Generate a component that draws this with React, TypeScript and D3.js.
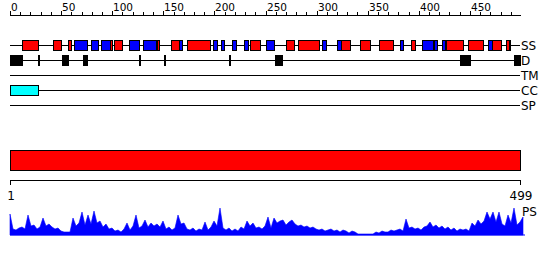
import React from "react";
import * as d3 from "d3";

const LENGTH = 499;
const rulerTicks = d3.range(0, 500, 10);
const rulerLabels = [0, 50, 100, 150, 200, 250, 300, 350, 400, 450];
const trackNames = ["SS", "D", "TM", "CC", "SP"];

// secondary structure: [start, end, type] H = helix (red), E = strand (blue)
const ssStart = [12, 42, 57, 63, 79, 89, 98, 102, 116, 130, 144, 158, 165, 173, 199, 206, 217, 229, 235, 250, 270, 282, 305, 320, 324, 342, 361, 382, 392, 403, 415, 423, 427, 448, 468, 472, 485, 488];
const ssEnd = [27, 50, 60, 75, 86, 98, 100, 110, 126, 143, 146, 165, 168, 196, 203, 209, 221, 233, 245, 258, 278, 302, 309, 324, 333, 352, 375, 385, 396, 414, 418, 426, 443, 463, 472, 480, 488, 489];
const ssType = ["H", "H", "H", "E", "E", "E", "H", "H", "E", "E", "H", "H", "E", "H", "E", "E", "E", "E", "H", "E", "H", "H", "E", "E", "H", "H", "H", "E", "H", "E", "E", "E", "H", "H", "E", "H", "H", "E"];

// disordered regions
const disStart = [0, 27, 51, 71, 126, 151, 214, 259, 440, 493];
const disEnd = [12, 28, 57, 75, 127, 152, 215, 266, 450, 499];

// coiled coil
const ccStart = [0];
const ccEnd = [27];

// domain bar
const domainStart = [1];
const domainEnd = [499];
const axisLabels = ["1", "499"];

// PS profile
const psValues = [
  21, 6, 5, 7, 8, 6, 20, 9, 10, 6, 8, 17, 9, 11, 8, 6, 7, 4, 3, 3,
  3, 17, 9, 12, 23, 10, 20, 11, 24, 12, 14, 8, 11, 6, 7, 4, 5, 3, 6, 12,
  5, 9, 20, 7, 9, 15, 8, 12, 9, 11, 8, 14, 6, 8, 5, 7, 20, 11, 12, 6,
  5, 7, 4, 6, 5, 13, 5, 8, 14, 9, 27, 7, 5, 7, 4, 6, 4, 8, 6, 14,
  9, 12, 7, 8, 6, 9, 18, 7, 17, 12, 14, 15, 10, 13, 15, 11, 9, 10, 8, 9,
  7, 8, 6, 5, 6, 4, 5, 6, 4, 5, 3, 5, 4, 2, 4, 3, 1, 1, 1, 1,
  1, 1, 3, 2, 4, 3, 3, 5, 4, 5, 6, 4, 16, 7, 8, 6, 7, 5, 8, 9,
  13, 8, 10, 7, 9, 6, 8, 5, 7, 4, 6, 5, 6, 4, 12, 9, 15, 11, 14, 23,
  16, 23, 13, 23, 11, 9, 20, 12, 27, 10, 13, 18
];

const FONT = "DejaVu Sans, Verdana, sans-serif";

export default function App() {
  const x = d3.scaleLinear().domain([0, LENGTH]).range([10, 520]);
  const xd = d3.scaleLinear().domain([1, LENGTH]).range([10, 520]);
  const xp = d3.scaleLinear().domain([0, psValues.length - 1]).range([10, 523]);
  const yp = d3.scaleLinear().domain([0, 30]).range([235, 205]);
  const trackY = d3.scaleOrdinal<string, number>().domain(trackNames).range([45, 60, 75, 90, 105]);

  const psData = psValues.map((v, i) => ({ i, v }));
  const area = d3
    .area<{ i: number; v: number }>()
    .x((d) => xp(d.i))
    .y0(yp(0))
    .y1((d) => yp(d.v));

  const box = (s: number, e: number, cy: number, fill: string, key: string) => {
    const x0 = Math.round(x(s));
    const x1 = Math.max(Math.round(x(e)), x0 + 1);
    return (
      <rect key={key} x={x0 + 0.5} y={cy - 4.5} width={x1 - x0} height={10} fill={fill} stroke="#000" strokeWidth={1} />
    );
  };

  const colorOf = (t: string) => (t === "H" ? "#ff0000" : "#0000ff");

  return (
    <svg width={550} height={260} style={{ position: "absolute", left: 0, top: 0, background: "#fff" }}>
      {/* top ruler */}
      <g>
        <line x1={x(0)} x2={x(LENGTH) + 1} y1={15.5} y2={15.5} stroke="#000" />
        {rulerTicks.map((t) => (
          <line key={t} x1={Math.round(x(t)) + 0.5} x2={Math.round(x(t)) + 0.5} y1={t % 50 === 0 ? 11 : 12} y2={15.5} stroke="#000" />
        ))}
        {rulerLabels.map((t) => (
          <text key={t} x={Math.round(x(t)) + 1} y={11} fontSize={10.5} fontFamily={FONT} fill="#000">
            {t}
          </text>
        ))}
      </g>

      {/* track lines and labels */}
      {trackNames.map((n) => (
        <g key={n}>
          <line x1={10} x2={520} y1={trackY(n) + 0.5} y2={trackY(n) + 0.5} stroke="#000" />
          <text x={521} y={trackY(n) + 0.5} dy="0.36em" fontSize={12} fontFamily={FONT} fill="#000">
            {n}
          </text>
        </g>
      ))}

      {/* SS */}
      {ssStart.map((s, i) => box(s, ssEnd[i], trackY("SS"), colorOf(ssType[i]), "ss" + i))}
      {/* Disorder */}
      {disStart.map((s, i) => box(s, disEnd[i], trackY("D"), "#000", "d" + i))}
      {/* CC */}
      {ccStart.map((s, i) => box(s, ccEnd[i], trackY("CC"), "#00ffff", "cc" + i))}

      {/* domain bar */}
      {domainStart.map((s, i) => (
        <rect key={"dom" + i} x={xd(s) + 0.5} y={150.5} width={xd(domainEnd[i]) - xd(s)} height={20} fill="#ff0000" stroke="#000" />
      ))}

      {/* bottom ruler */}
      <g>
        <line x1={xd(1)} x2={xd(LENGTH) + 1} y1={180.5} y2={180.5} stroke="#000" />
        <line x1={xd(1) + 0.5} x2={xd(1) + 0.5} y1={180.5} y2={185} stroke="#000" />
        <line x1={xd(LENGTH) + 0.5} x2={xd(LENGTH) + 0.5} y1={180.5} y2={185} stroke="#000" />
        <text x={xd(1) + 1} y={200} textAnchor="middle" fontSize={12} fontFamily={FONT} fill="#000">
          {axisLabels[0]}
        </text>
        <text x={xd(LENGTH) + 1} y={200} textAnchor="middle" fontSize={12} fontFamily={FONT} fill="#000">
          {axisLabels[1]}
        </text>
      </g>

      {/* PS profile */}
      <path d={area(psData) || ""} fill="#0000ff" stroke="#0000ff" strokeWidth={0.6} />
      <line x1={10} x2={525} y1={235} y2={235} stroke="#0000ff" strokeWidth={1} />
      <text x={522} y={216} fontSize={12} fontFamily={FONT} fill="#000">
        PS
      </text>
    </svg>
  );
}
